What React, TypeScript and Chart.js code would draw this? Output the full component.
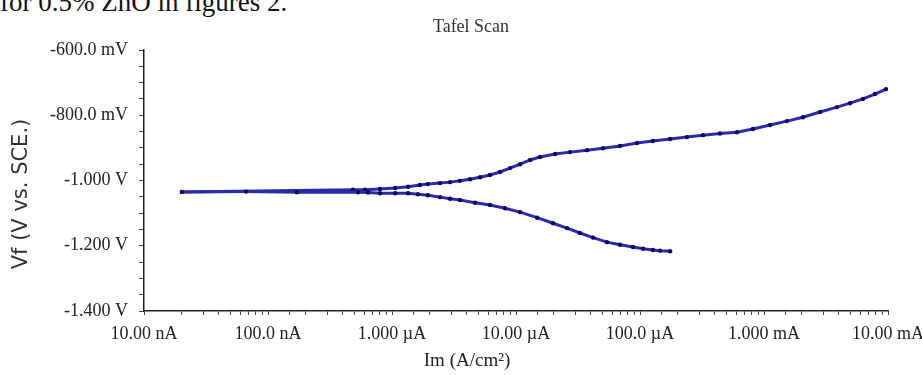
import { useEffect, useRef } from 'react';
import { Chart, registerables } from 'chart.js';

Chart.register(...registerables);

const captionText = 'for 0.5% ZnO in figures 2.';
const chartTitle = 'Tafel Scan';
const xAxisTitle = 'Im (A/cm\u00B2)';
const yAxisTitle = 'Vf (V vs. SCE.)';

const xTickValues = [1e-8, 1e-7, 1e-6, 1e-5, 1e-4, 1e-3, 1e-2];
const xTickLabels = ['10.00 nA', '100.0 nA', '1.000 \u00B5A', '10.00 \u00B5A', '100.0 \u00B5A', '1.000 mA', '10.00 mA'];
const yTickValues = [-1400, -1200, -1000, -800, -600];
const yTickLabels = ['-1.400 V', '-1.200 V', '-1.000 V', '-800.0 mV', '-600.0 mV'];

// Cathodic branch (A/cm², mV), scanned from high current toward Ecorr
const cathodicCurrent = [
  1.75e-4, 1.45e-4, 1.27e-4, 1.06e-4, 8.79e-5, 6.9e-5, 5.42e-5, 4.18e-5, 3.28e-5, 2.58e-5,
  1.99e-5, 1.48e-5, 1.08e-5, 8.15e-6, 6.17e-6, 4.67e-6, 3.53e-6, 2.94e-6, 2.44e-6, 1.95e-6,
  1.62e-6, 1.35e-6, 1.06e-6, 8.0e-7, 6.4e-7, 5.32e-7, 1.71e-7, 6.65e-8, 2.02e-8,
];
const cathodicPotential = [
  -1217, -1215, -1213, -1209, -1204, -1197, -1189, -1175, -1161, -1146,
  -1131, -1114, -1097, -1085, -1075, -1068, -1060, -1056, -1051, -1045,
  -1042, -1039, -1039, -1039, -1037, -1036, -1036, -1034, -1035,
];

// Anodic branch (A/cm², mV)
const anodicCurrent = [
  2.02e-8, 4.84e-7, 6.05e-7, 8.0e-7, 1.06e-6, 1.35e-6, 1.68e-6, 1.95e-6, 2.44e-6, 2.94e-6, 3.53e-6,
  4.26e-6, 5.13e-6, 6.17e-6, 7.43e-6, 8.95e-6, 1.08e-5, 1.3e-5, 1.56e-5, 2.07e-5, 2.73e-5,
  3.74e-5, 5.03e-5, 6.9e-5, 9.46e-5, 1.27e-4, 1.75e-4, 2.39e-4, 3.22e-4, 4.42e-4, 6.05e-4,
  8.15e-4, 1.12e-3, 1.53e-3, 2.06e-3, 2.83e-3, 3.88e-3, 4.94e-3, 6.28e-3, 7.85e-3, 9.64e-3,
];
const anodicPotential = [
  -1035, -1028, -1028, -1026, -1023, -1019, -1014, -1011, -1008, -1005, -1001,
  -996, -990, -983, -974, -962, -950, -937, -928, -919, -913,
  -907, -901, -894, -885, -879, -873, -867, -861, -856, -852,
  -842, -830, -818, -806, -790, -775, -763, -750, -735, -720,
];

const toPoints = (xs: number[], ys: number[]) => xs.map((x, i) => ({ x, y: ys[i] }));

const findLabel = (v: number, values: number[], labels: string[], log: boolean) => {
  for (let i = 0; i < values.length; i++) {
    const a = log ? Math.log10(v) : v;
    const b = log ? Math.log10(values[i]) : values[i];
    if (Math.abs(a - b) < 1e-6) return labels[i];
  }
  return '';
};

const lineColor = '#2a2aae';
const pointColor = '#0c0c5a';
const serif = 'Liberation Serif';

const titlesPlugin = {
  id: 'tafelTitles',
  afterDraw(chart: any) {
    const ctx = chart.ctx as CanvasRenderingContext2D;
    ctx.save();
    ctx.textAlign = 'center';
    ctx.textBaseline = 'middle';
    // chart title
    ctx.fillStyle = '#333';
    ctx.font = `18px "${serif}"`;
    ctx.fillText(chartTitle, 471, 27);
    // x axis title
    ctx.fillStyle = '#222';
    ctx.font = `19px "${serif}"`;
    ctx.fillText(xAxisTitle, 467, 361);
    // y axis title
    ctx.fillStyle = '#333';
    ctx.font = '21px "DejaVu Sans"';
    ctx.translate(22, 194);
    ctx.rotate(-Math.PI / 2);
    ctx.fillText(yAxisTitle, 0, 0);
    ctx.restore();
  },
};

export default function App() {
  const ref = useRef<HTMLCanvasElement>(null);

  useEffect(() => {
    const chart = new Chart(ref.current as HTMLCanvasElement, {
      type: 'scatter',
      data: {
        datasets: [
          {
            label: 'Cathodic',
            data: toPoints(cathodicCurrent, cathodicPotential),
            showLine: true,
            borderColor: lineColor,
            borderWidth: 3,
            pointRadius: 2.2,
            pointBackgroundColor: pointColor,
            pointBorderColor: pointColor,
            pointBorderWidth: 0,
          },
          {
            label: 'Anodic',
            data: toPoints(anodicCurrent, anodicPotential),
            showLine: true,
            borderColor: lineColor,
            borderWidth: 3,
            pointRadius: 2.2,
            pointBackgroundColor: pointColor,
            pointBorderColor: pointColor,
            pointBorderWidth: 0,
          },
        ],
      },
      options: {
        responsive: false,
        animation: false,
        devicePixelRatio: 1,
        layout: { padding: { top: 50, right: 34, bottom: 0, left: 0 } },
        plugins: {
          legend: { display: false },
          tooltip: { enabled: false },
          title: { display: false },
        },
        scales: {
          x: {
            type: 'logarithmic',
            position: 'bottom',
            min: 1e-8,
            max: 1e-2,
            afterFit: (s: any) => {
              s.height = 64;
              s.paddingLeft = 0;
              s.paddingRight = 0;
            },
            border: { display: true, color: '#222', width: 1.5 },
            grid: { drawOnChartArea: false, drawTicks: true, tickLength: 4, color: '#444' },
            ticks: {
              autoSkip: false,
              maxRotation: 0,
              padding: 8,
              color: '#222',
              font: { family: serif, size: 18 },
              callback: (v: any) => findLabel(Number(v), xTickValues, xTickLabels, true),
            },
            title: { display: false },
          },
          y: {
            type: 'linear',
            position: 'left',
            min: -1400,
            max: -600,
            afterFit: (s: any) => {
              s.width = 144;
            },
            border: { display: true, color: '#222', width: 1.5 },
            grid: { drawOnChartArea: false, drawTicks: true, tickLength: 5, color: '#444' },
            ticks: {
              stepSize: 50,
              autoSkip: false,
              padding: 11,
              color: '#222',
              font: { family: serif, size: 18 },
              callback: (v: any) => findLabel(Number(v), yTickValues, yTickLabels, false),
            },
            title: { display: false },
          },
        },
      },
      plugins: [titlesPlugin],
    } as any);
    return () => chart.destroy();
  }, []);

  return (
    <div
      style={{
        position: 'absolute',
        left: 0,
        top: 0,
        width: 922,
        height: 375,
        overflow: 'hidden',
        background: '#fff',
      }}
    >
      <div
        style={{
          position: 'absolute',
          left: 0,
          top: -11,
          fontFamily: '"Liberation Serif", serif',
          fontSize: 27,
          lineHeight: '26px',
          whiteSpace: 'nowrap',
          color: '#111',
        }}
      >
        {captionText}
      </div>
      <canvas
        ref={ref}
        width={922}
        height={375}
        style={{ position: 'absolute', left: 0, top: 0, width: 922, height: 375 }}
      />
    </div>
  );
}
